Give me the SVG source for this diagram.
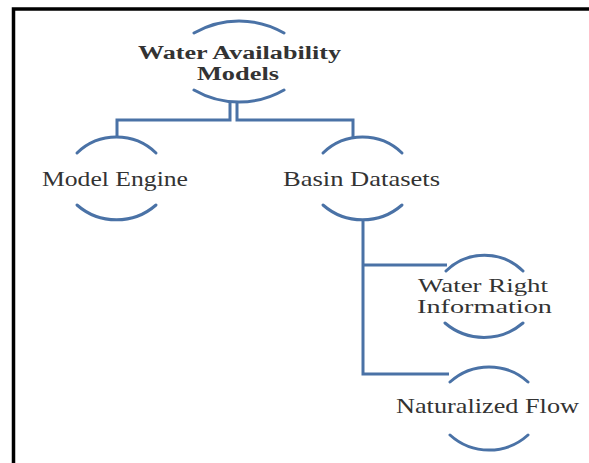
<svg xmlns="http://www.w3.org/2000/svg" width="589" height="463" viewBox="0 0 589 463">
<style>
.arc{fill:none;stroke:#4a72a6;stroke-width:3;stroke-linecap:round}
.con{fill:none;stroke:#4a72a6;stroke-width:3}
.t{font-family:"Liberation Serif","Times New Roman",serif;font-size:21px;fill:#333}
.m{font-size:18.5px}
.b{font-weight:bold}
</style>
<rect width="589" height="463" fill="#fff"/>
<path d="M13.5,463 V9 H589" fill="none" stroke="#000" stroke-width="3.5"/>
<g id="connectors">
<path class="con" d="M230,102 V120 H117 V137"/>
<path class="con" d="M237,102 V120 H353 V137"/>
<path class="con" d="M363,220 V374 H449 M363,265 H447"/>
</g>
<g id="wam">
<path class="arc" d="M194,33 A90,90 0 0 1 284,33"/>
<path class="arc" d="M194,90 A90,90 0 0 0 284,90"/>
<text class="t m b" x="138" y="59" textLength="203" lengthAdjust="spacingAndGlyphs">Water Availability</text>
<text class="t m b" x="197" y="79.5" textLength="82" lengthAdjust="spacingAndGlyphs">Models</text>
</g>
<g id="engine">
<path class="arc" d="M77,153 A57,57 0 0 1 156,153"/>
<path class="arc" d="M77,205 A60,60 0 0 0 156,205"/>
<text class="t" x="42" y="186" textLength="146" lengthAdjust="spacingAndGlyphs">Model Engine</text>
</g>
<g id="basin">
<path class="arc" d="M323,153 A57,57 0 0 1 402,153"/>
<path class="arc" d="M323,205 A60,60 0 0 0 402,205"/>
<text class="t" x="283" y="186" textLength="157" lengthAdjust="spacingAndGlyphs">Basin Datasets</text>
</g>
<g id="waterright">
<path class="arc" d="M446,271 A55,55 0 0 1 523,271"/>
<path class="arc" d="M445,323 A60,60 0 0 0 523,323"/>
<text class="t m" x="418" y="292" textLength="130" lengthAdjust="spacingAndGlyphs">Water Right</text>
<text class="t m" x="417" y="312.5" textLength="135" lengthAdjust="spacingAndGlyphs">Information</text>
</g>
<g id="natflow">
<path class="arc" d="M450,382 A58,58 0 0 1 528,382"/>
<path class="arc" d="M450,435 A58,58 0 0 0 528,435"/>
<text class="t" x="396" y="413" textLength="183" lengthAdjust="spacingAndGlyphs">Naturalized Flow</text>
</g>
</svg>
